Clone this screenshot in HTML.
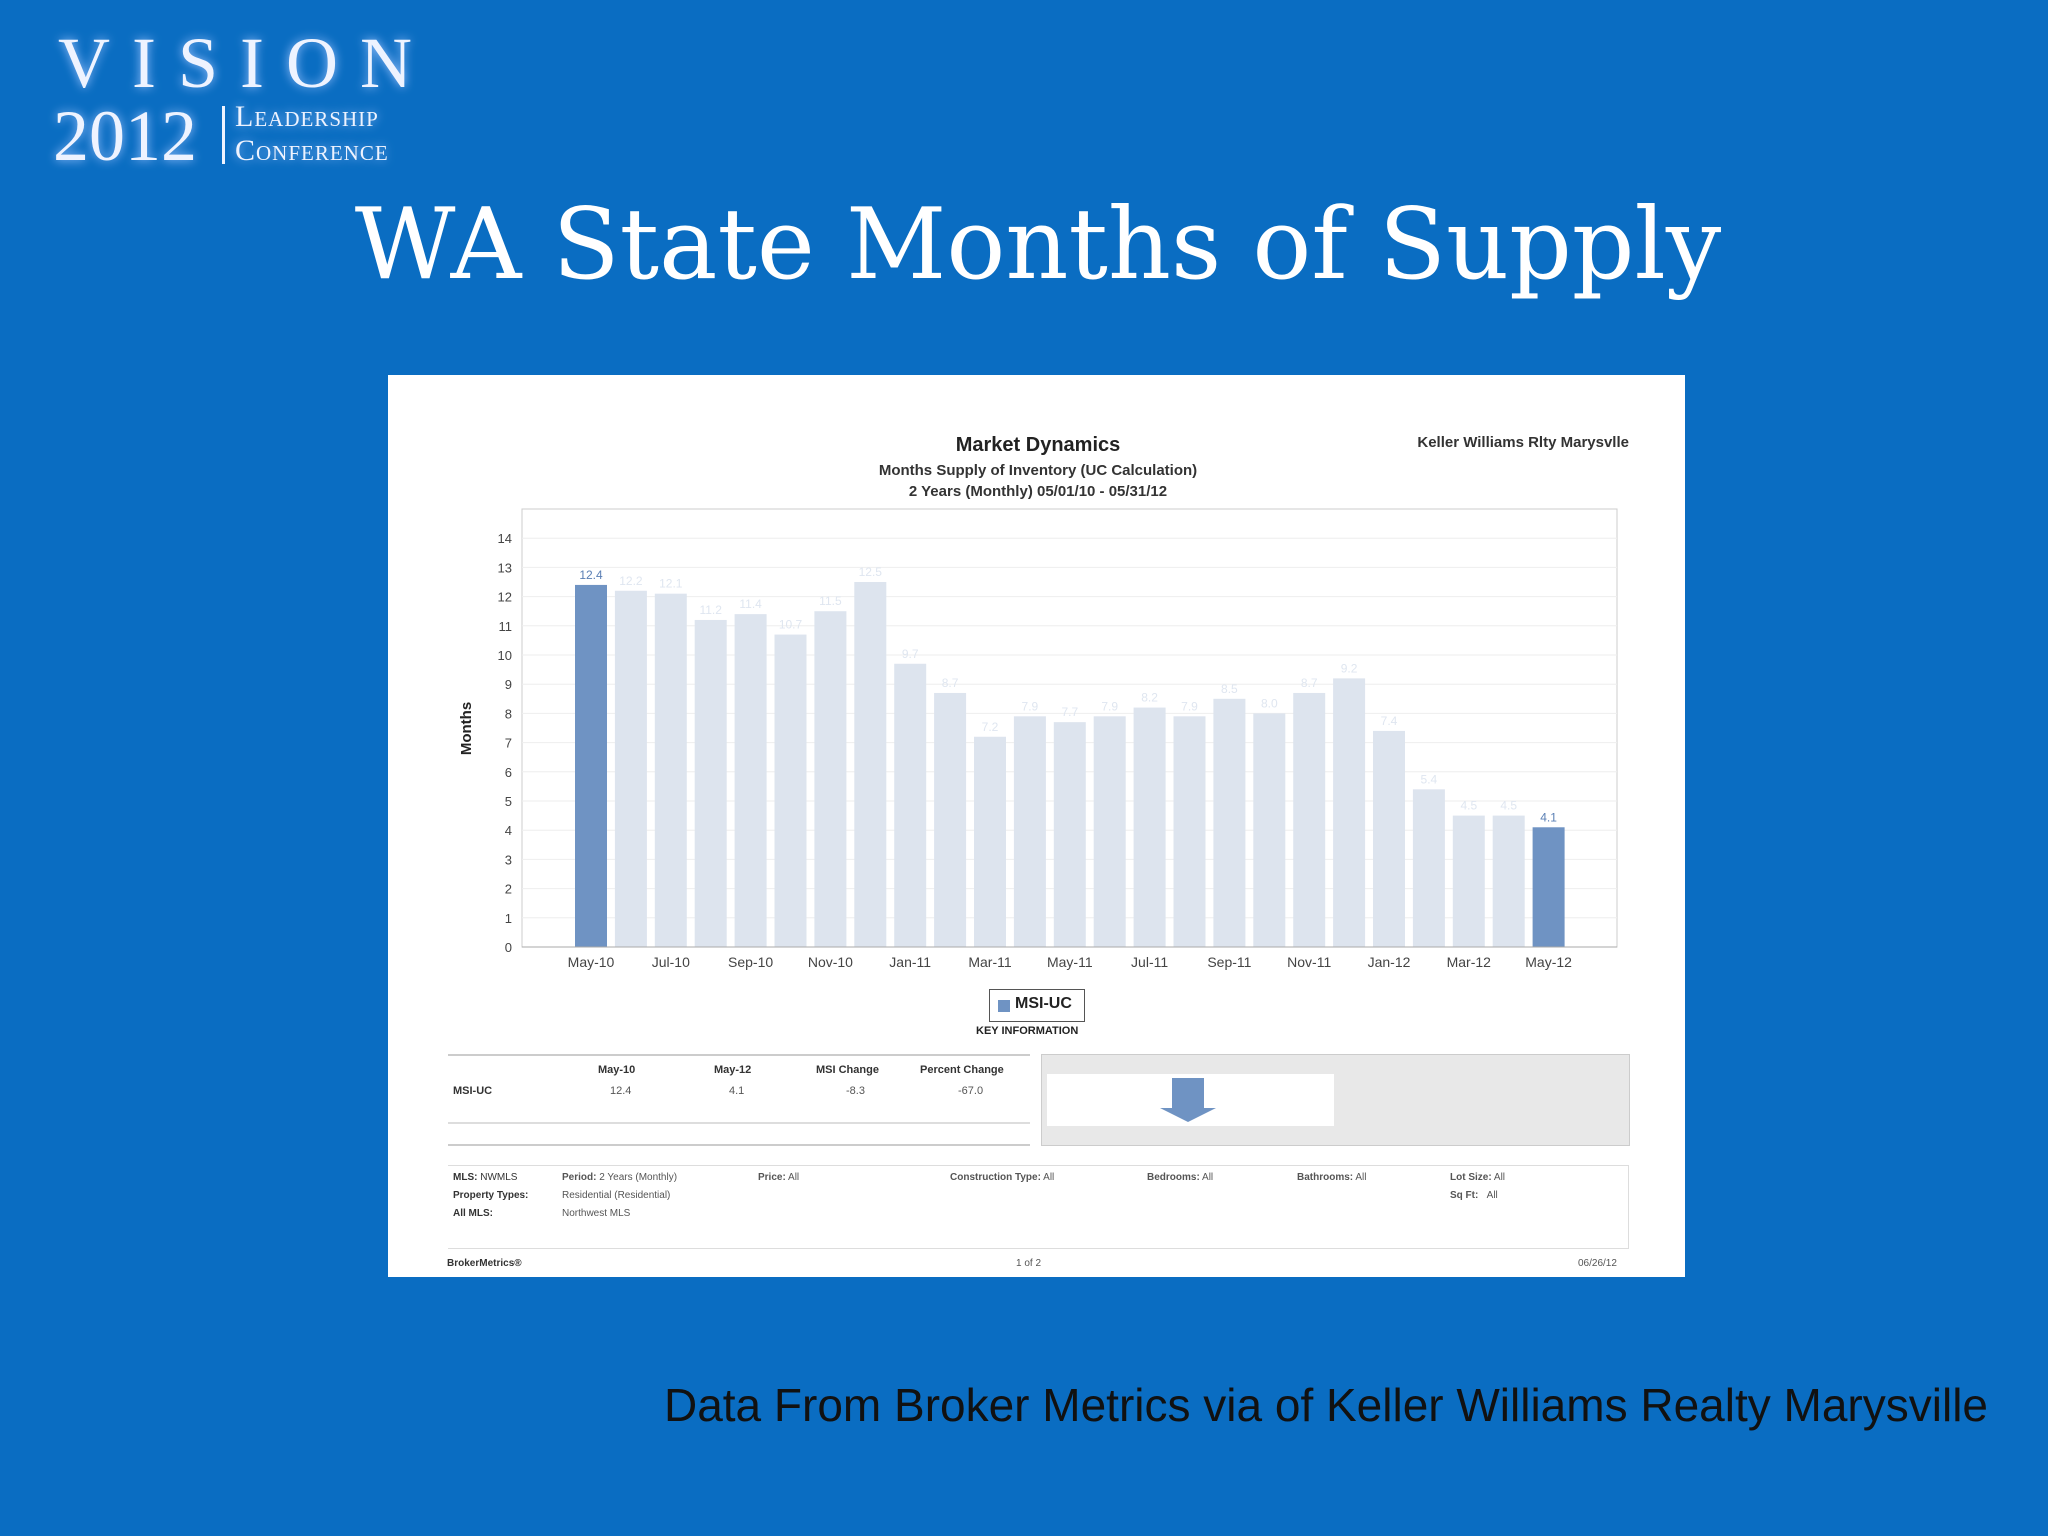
<!DOCTYPE html>
<html><head><meta charset="utf-8">
<style>
body{margin:0;width:2048px;height:1536px;background:#0a6dc2;overflow:hidden;position:relative;font-family:"Liberation Sans",sans-serif}
.abs{position:absolute}
.logo{color:#eef3ff;font-family:"Liberation Serif",serif;text-shadow:0 0 10px #9fc4ff}
.t{position:absolute;font-size:11px;color:#555}
.b{font-weight:bold;color:#333}
</style></head><body>
<div class="abs logo" style="left:58px;top:22px;font-size:72px;letter-spacing:22px">VISION</div>
<div class="abs logo" style="left:53px;top:95px;font-size:72px">2012</div>
<div class="abs" style="left:222px;top:106px;width:3px;height:58px;background:#eef3ff"></div>
<div class="abs logo" style="left:235px;top:100px;font-size:30px;font-variant:small-caps;letter-spacing:1px">Leadership</div>
<div class="abs logo" style="left:235px;top:134px;font-size:30px;font-variant:small-caps;letter-spacing:1px">Conference</div>
<div class="abs" style="left:0;width:2076px;text-align:center;top:188px;font-family:'DejaVu Serif',serif;font-size:98px;color:#fff">WA State Months of Supply</div>
<div class="abs" style="right:60px;top:1378px;font-size:46px;color:#111">Data From Broker Metrics via of Keller Williams Realty Marysville</div>

<div class="abs" style="left:388px;top:375px;width:1297px;height:902px;background:#fff"></div>
<svg class="abs" style="left:0;top:0" width="2048" height="1536" id="chart"></svg>

<div class="t b" style="left:838px;width:400px;text-align:center;top:434px;font-size:20px;color:#222">Market Dynamics</div>
<div class="t b" style="left:788px;width:500px;text-align:center;top:462px;font-size:15px">Months Supply of Inventory (UC Calculation)</div>
<div class="t b" style="left:788px;width:500px;text-align:center;top:483px;font-size:15px">2 Years (Monthly) 05/01/10 - 05/31/12</div>
<div class="t b" style="right:419px;top:434px;font-size:15px">Keller Williams Rlty Marysvlle</div>
<div class="t b" style="left:440px;top:720px;font-size:15px;transform:rotate(-90deg);color:#222">Months</div>

<div class="abs" style="left:989px;top:989px;width:94px;height:31px;border:1px solid #555;background:#fff"></div>
<div class="abs" style="left:998px;top:1000px;width:12px;height:12px;background:#6f93c3"></div>
<div class="t b" style="left:1015px;top:995px;font-size:16px;color:#222">MSI-UC</div>
<div class="t b" style="left:976px;top:1025px;font-size:11px;color:#222">KEY INFORMATION</div>

<div class="abs" style="left:448px;top:1054px;width:582px;height:88px;border-top:2px solid #ccc;border-bottom:2px solid #ccc"></div>
<div class="abs" style="left:448px;top:1122px;width:582px;height:2px;background:#ddd"></div>
<div class="t b" style="left:598px;top:1064px">May-10</div>
<div class="t b" style="left:714px;top:1064px">May-12</div>
<div class="t b" style="left:816px;top:1064px">MSI Change</div>
<div class="t b" style="left:920px;top:1064px">Percent Change</div>
<div class="t b" style="left:453px;top:1085px">MSI-UC</div>
<div class="t" style="left:610px;top:1085px">12.4</div>
<div class="t" style="left:729px;top:1085px">4.1</div>
<div class="t" style="left:846px;top:1085px">-8.3</div>
<div class="t" style="left:958px;top:1085px">-67.0</div>
<div class="abs" style="left:1041px;top:1054px;width:587px;height:90px;background:#e8e8e8;border:1px solid #ccc"></div>
<div class="abs" style="left:1047px;top:1074px;width:287px;height:52px;background:#fff"></div>
<svg class="abs" style="left:1158px;top:1076px" width="60" height="48"><path d="M14 2h32v30h12L30 46 2 32h12z" fill="#6f93c3"/></svg>

<div class="abs" style="left:448px;top:1165px;width:1180px;height:82px;border-top:1px solid #ddd;border-bottom:1px solid #ddd;border-right:1px solid #ddd"></div>
<div class="t b" style="left:453px;top:1172px;font-size:10px">MLS: <span style="font-weight:normal">NWMLS</span></div>
<div class="t b" style="left:453px;top:1190px;font-size:10px">Property Types:</div>
<div class="t b" style="left:453px;top:1208px;font-size:10px">All MLS:</div>
<div class="t" style="left:562px;top:1172px;font-size:10px"><b>Period:</b> 2 Years (Monthly)</div>
<div class="t" style="left:562px;top:1190px;font-size:10px">Residential (Residential)</div>
<div class="t" style="left:562px;top:1208px;font-size:10px">Northwest MLS</div>
<div class="t" style="left:758px;top:1172px;font-size:10px"><b>Price:</b> All</div>
<div class="t" style="left:950px;top:1172px;font-size:10px"><b>Construction Type:</b> All</div>
<div class="t" style="left:1147px;top:1172px;font-size:10px"><b>Bedrooms:</b> All</div>
<div class="t" style="left:1297px;top:1172px;font-size:10px"><b>Bathrooms:</b> All</div>
<div class="t" style="left:1450px;top:1172px;font-size:10px"><b>Lot Size:</b> All</div>
<div class="t" style="left:1450px;top:1190px;font-size:10px"><b>Sq Ft:</b> &nbsp;&nbsp;All</div>
<div class="t b" style="left:447px;top:1258px;font-size:10px">BrokerMetrics®</div>
<div class="t" style="left:1016px;top:1258px;font-size:10px">1 of 2</div>
<div class="t" style="left:1578px;top:1258px;font-size:10px">06/26/12</div>

<script>
const categories=["May-10","Jun-10","Jul-10","Aug-10","Sep-10","Oct-10","Nov-10","Dec-10","Jan-11","Feb-11","Mar-11","Apr-11","May-11","Jun-11","Jul-11","Aug-11","Sep-11","Oct-11","Nov-11","Dec-11","Jan-12","Feb-12","Mar-12","Apr-12","May-12"];
const values=[12.4,12.2,12.1,11.2,11.4,10.7,11.5,12.5,9.7,8.7,7.2,7.9,7.7,7.9,8.2,7.9,8.5,8.0,8.7,9.2,7.4,5.4,4.5,4.5,4.1];
const yTicks=[0,1,2,3,4,5,6,7,8,9,10,11,12,13,14];
const NS="http://www.w3.org/2000/svg";
const svg=document.getElementById('chart');
const X0=555,PITCH=39.9,BW=32,Y0=947,YU=29.2;
const xs=i=>X0+i*PITCH;
const ys=v=>Y0-v*YU;
function mk(t,a){const e=document.createElementNS(NS,t);for(const k in a)e.setAttribute(k,a[k]);svg.appendChild(e);return e;}
const frame=mk('rect',{x:522,y:509,width:1095,height:438,fill:'#fff',stroke:'#ccc'});


yTicks.forEach(t=>{
  const g=mk('line',{x1:522,x2:1617,y1:ys(t),y2:ys(t),stroke:'#eee'});
  
  
  const l=mk('text',{x:512,y:ys(t)+5,'text-anchor':'end','font-size':13,fill:'#444'});
  l.textContent=t;
  
  
});
values.forEach((v,i)=>{
  const hi=(i===0||i===values.length-1);
  const r=mk('rect',{x:xs(i)+20,y:ys(v),width:BW,height:v*YU,fill:hi?'#6f93c3':'#dde4ee'});
  
  
  const t=mk('text',{x:xs(i)+36,y:ys(v)-6,'text-anchor':'middle','font-size':12,fill:hi?'#5a7fb4':'#dfe6f0'});
  t.textContent=v.toFixed(1);
  
  
  if(i%2===0){
    const c=mk('text',{x:xs(i)+36,y:967,'text-anchor':'middle','font-size':14,fill:'#444'});
    c.textContent=categories[i];
    
    
  }
});
const ax=mk('line',{x1:522,x2:1617,y1:Y0,y2:Y0,stroke:'#aaa'});


</script>
</body></html>
